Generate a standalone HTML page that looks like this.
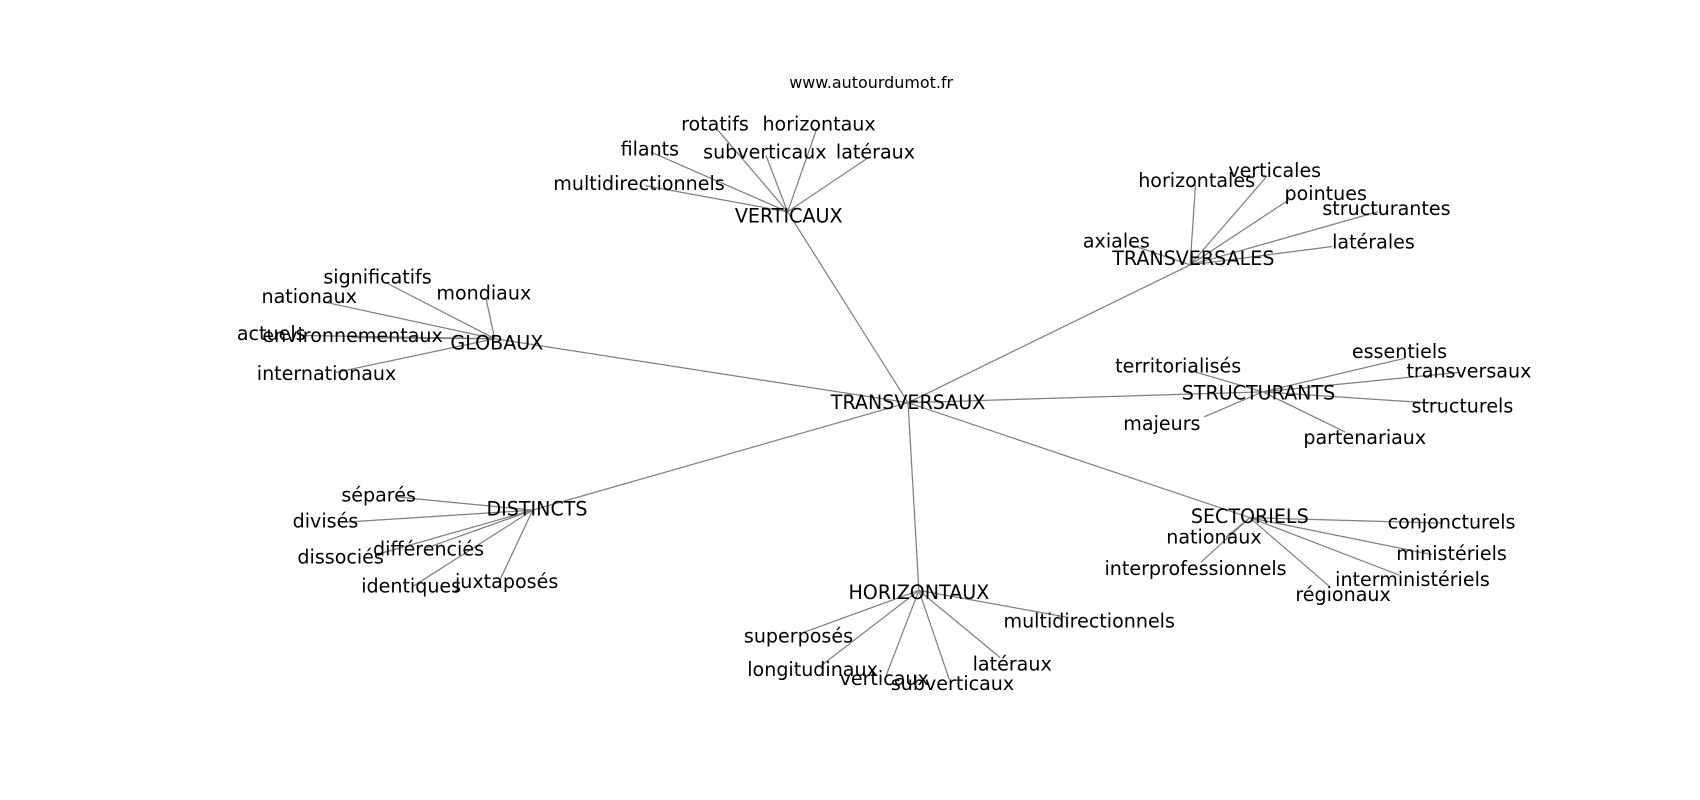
<!DOCTYPE html>
<html><head><meta charset="utf-8"><style>
html,body{margin:0;padding:0;background:#fff;}
svg{display:block;}
text{font-family:"DejaVu Sans","Liberation Sans",sans-serif;font-size:17.6px;fill:#000;text-anchor:middle;dominant-baseline:central;}
line{stroke:#808080;stroke-width:1.15;}
</style></head><body>
<svg width="1700" height="800" viewBox="0 0 1567 737" xmlns="http://www.w3.org/2000/svg">
<rect width="1567" height="737" fill="#fff"/>
<g>
<line x1="837" y1="371" x2="726" y2="195"/>
<line x1="837" y1="371" x2="456" y2="312"/>
<line x1="837" y1="371" x2="1097" y2="244"/>
<line x1="837" y1="371" x2="1164" y2="361"/>
<line x1="837" y1="371" x2="1152" y2="477"/>
<line x1="837" y1="371" x2="491" y2="470"/>
<line x1="837" y1="371" x2="847" y2="544"/>

<line x1="726" y1="195" x2="662" y2="120"/>
<line x1="726" y1="195" x2="753" y2="118"/>
<line x1="726" y1="195" x2="600" y2="140"/>
<line x1="726" y1="195" x2="706" y2="143"/>
<line x1="726" y1="195" x2="799" y2="146"/>
<line x1="726" y1="195" x2="595" y2="171"/>

<line x1="456" y1="312" x2="357" y2="261"/>
<line x1="456" y1="312" x2="298" y2="278"/>
<line x1="456" y1="312" x2="448" y2="275"/>
<line x1="456" y1="312" x2="279" y2="309"/>
<line x1="456" y1="312" x2="324" y2="311"/>
<line x1="456" y1="312" x2="310" y2="343"/>

<line x1="1097" y1="244" x2="1102" y2="170"/>
<line x1="1097" y1="244" x2="1168" y2="162"/>
<line x1="1097" y1="244" x2="1188" y2="184"/>
<line x1="1097" y1="244" x2="1270" y2="195"/>
<line x1="1097" y1="244" x2="1228" y2="227"/>
<line x1="1097" y1="244" x2="1044" y2="226"/>

<line x1="1164" y1="361" x2="1096" y2="341"/>
<line x1="1164" y1="361" x2="1295" y2="330"/>
<line x1="1164" y1="361" x2="1345" y2="343"/>
<line x1="1164" y1="361" x2="1330" y2="372"/>
<line x1="1164" y1="361" x2="1240" y2="398"/>
<line x1="1164" y1="361" x2="1110" y2="384"/>

<line x1="1152" y1="477" x2="1330" y2="482"/>
<line x1="1152" y1="477" x2="1320" y2="511"/>
<line x1="1152" y1="477" x2="1290" y2="530"/>
<line x1="1152" y1="477" x2="1225" y2="540"/>
<line x1="1152" y1="477" x2="1130" y2="495"/>
<line x1="1152" y1="477" x2="1107" y2="518"/>

<line x1="491" y1="470" x2="367" y2="458"/>
<line x1="491" y1="470" x2="320" y2="481"/>
<line x1="491" y1="470" x2="347" y2="511"/>
<line x1="491" y1="470" x2="393" y2="505"/>
<line x1="491" y1="470" x2="381" y2="540"/>
<line x1="491" y1="470" x2="461" y2="534"/>

<line x1="847" y1="544" x2="740" y2="583"/>
<line x1="847" y1="544" x2="756" y2="614"/>
<line x1="847" y1="544" x2="817" y2="622"/>
<line x1="847" y1="544" x2="875" y2="626"/>
<line x1="847" y1="544" x2="922" y2="606"/>
<line x1="847" y1="544" x2="985" y2="569"/>
</g>
<g>
<text x="803" y="76" style="font-size:14.7px">www.autourdumot.fr</text>
<text x="837" y="371">TRANSVERSAUX</text>
<text x="727" y="199">VERTICAUX</text>
<text x="659" y="114">rotatifs</text>
<text x="755" y="114">horizontaux</text>
<text x="599" y="137">filants</text>
<text x="705" y="140">subverticaux</text>
<text x="807" y="140">latéraux</text>
<text x="589" y="169">multidirectionnels</text>

<text x="458" y="316">GLOBAUX</text>
<text x="348" y="255">significatifs</text>
<text x="285" y="273">nationaux</text>
<text x="446" y="270">mondiaux</text>
<text x="250" y="307">actuels</text>
<text x="325" y="309">environnementaux</text>
<text x="301" y="344">internationaux</text>

<text x="1100" y="238">TRANSVERSALES</text>
<text x="1103" y="166">horizontales</text>
<text x="1175" y="157">verticales</text>
<text x="1222" y="178">pointues</text>
<text x="1278" y="192">structurantes</text>
<text x="1266" y="223">latérales</text>
<text x="1029" y="222">axiales</text>

<text x="1160" y="362">STRUCTURANTS</text>
<text x="1086" y="337">territorialisés</text>
<text x="1290" y="324">essentiels</text>
<text x="1354" y="342">transversaux</text>
<text x="1348" y="374">structurels</text>
<text x="1258" y="403">partenariaux</text>
<text x="1071" y="390">majeurs</text>

<text x="1152" y="476">SECTORIELS</text>
<text x="1338" y="481">conjoncturels</text>
<text x="1338" y="510">ministériels</text>
<text x="1302" y="534">interministériels</text>
<text x="1238" y="548">régionaux</text>
<text x="1119" y="495">nationaux</text>
<text x="1102" y="524">interprofessionnels</text>

<text x="495" y="469">DISTINCTS</text>
<text x="349" y="456">séparés</text>
<text x="300" y="480">divisés</text>
<text x="314" y="513">dissociés</text>
<text x="395" y="506">différenciés</text>
<text x="379" y="540">identiques</text>
<text x="467" y="536">juxtaposés</text>

<text x="847" y="546">HORIZONTAUX</text>
<text x="736" y="586">superposés</text>
<text x="749" y="617">longitudinaux</text>
<text x="815" y="625">verticaux</text>
<text x="878" y="630">subverticaux</text>
<text x="933" y="612">latéraux</text>
<text x="1004" y="572">multidirectionnels</text>
</g>
</svg>
</body></html>
